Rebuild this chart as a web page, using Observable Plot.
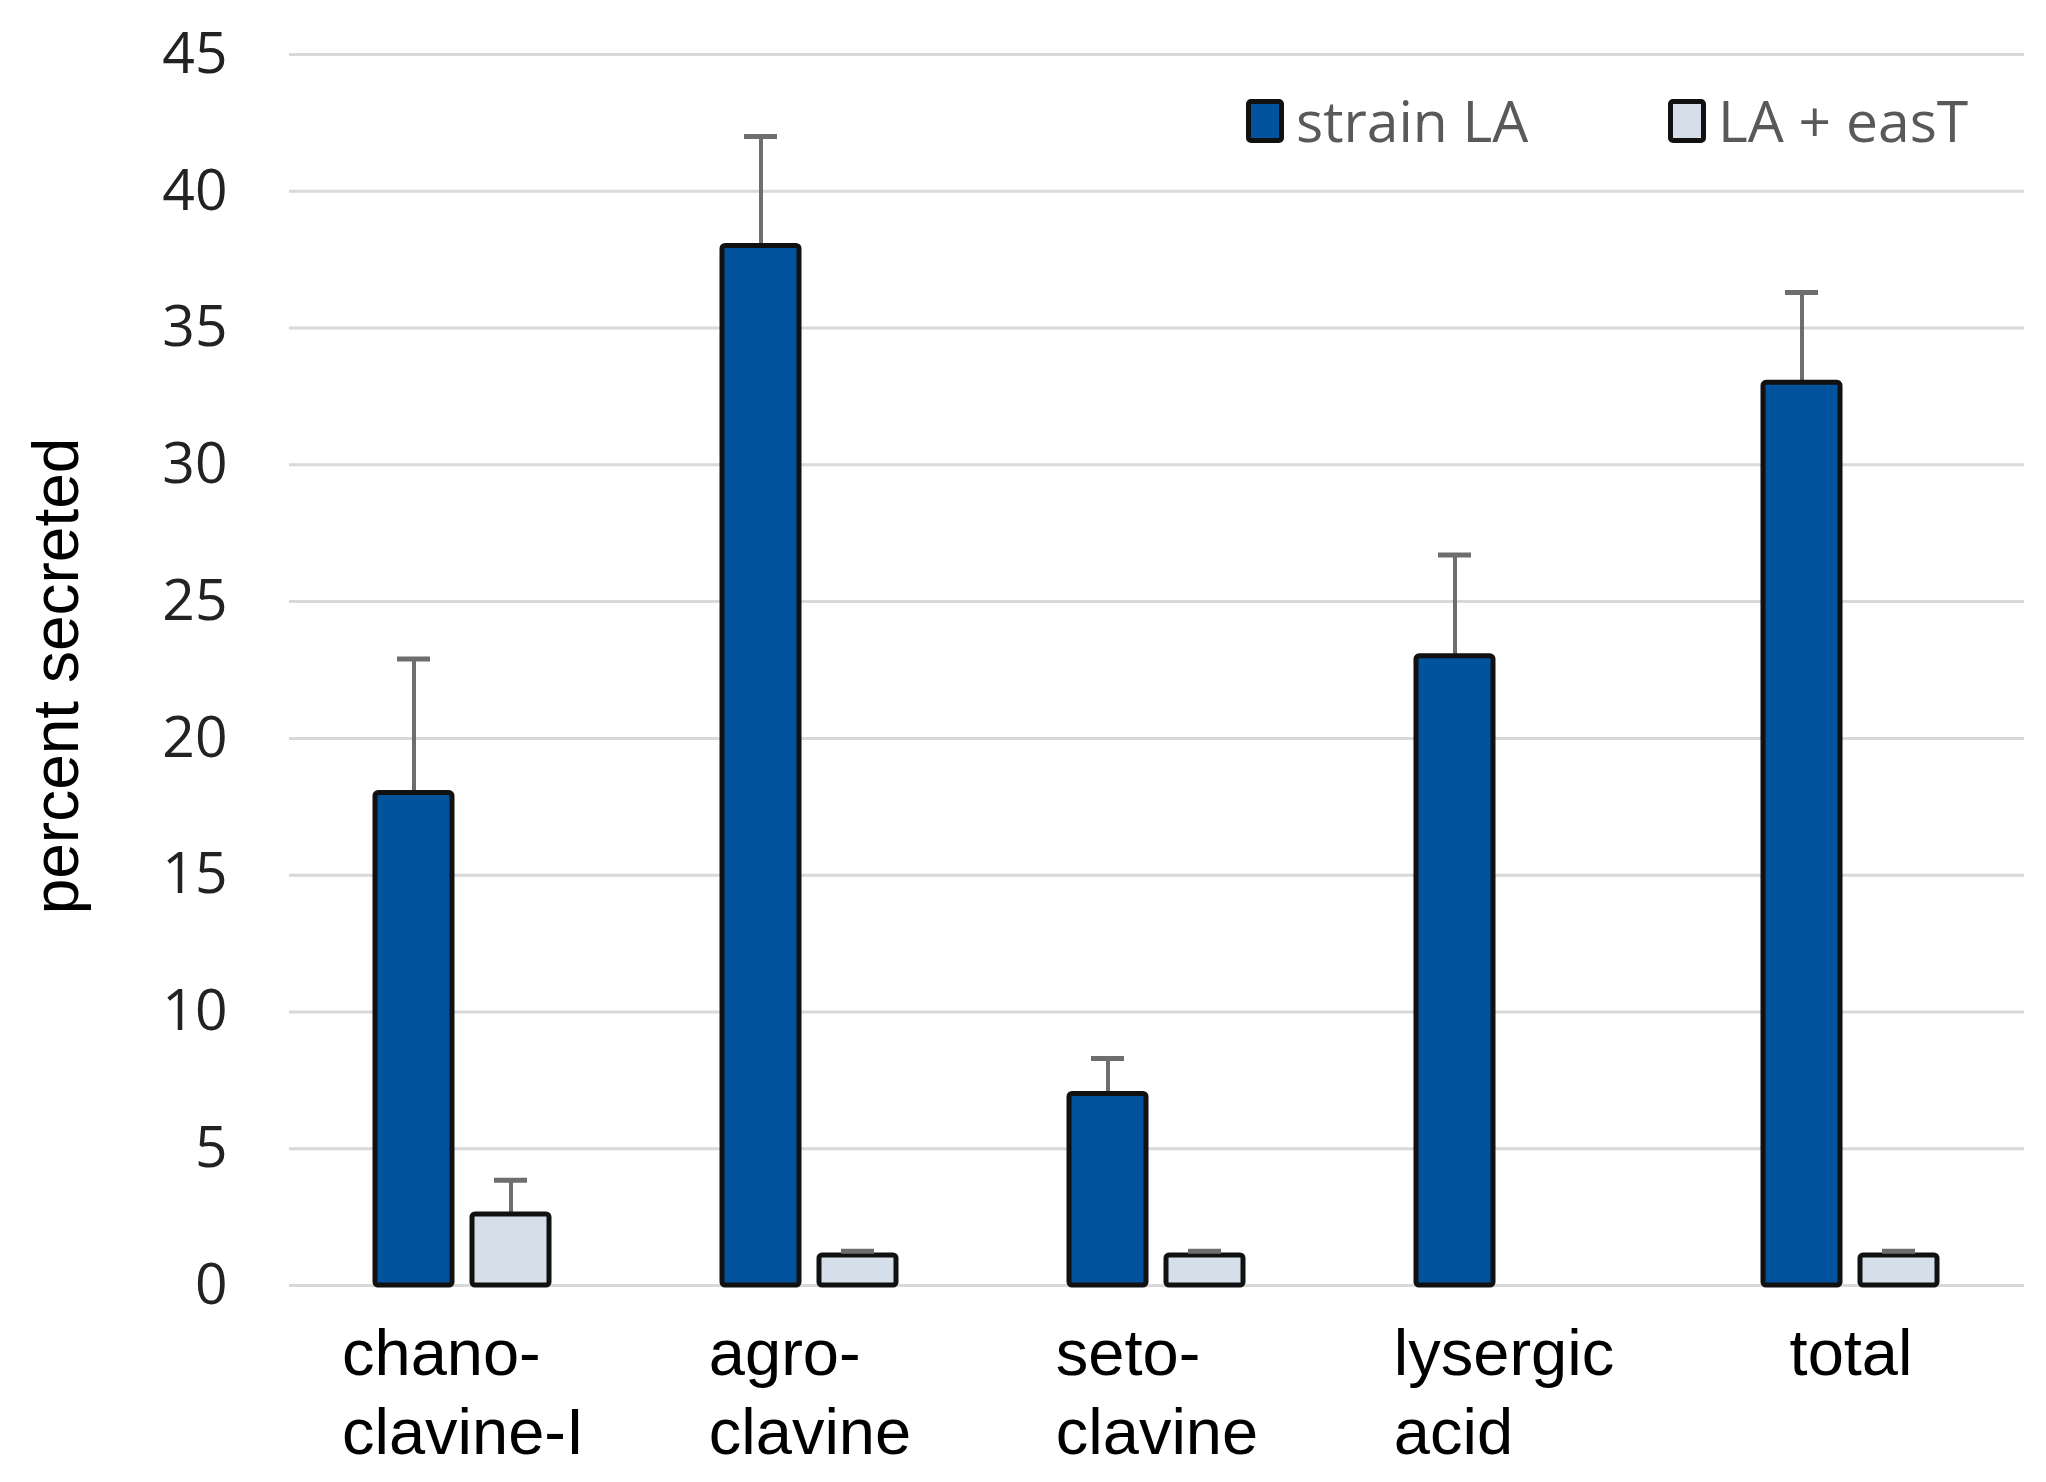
<!DOCTYPE html>
<html>
<head>
<meta charset="utf-8">
<script src="https://cdn.jsdelivr.net/npm/d3@7"></script>
<script src="https://cdn.jsdelivr.net/npm/@observablehq/plot@0.6"></script>
<style>
  html, body { margin: 0; padding: 0; background: #fff; }
  #wrap { position: relative; width: 2046px; height: 1482px; }
  .leg { position: absolute; display: flex; align-items: center; font-family: "Open Sans", sans-serif; font-size: 57px; color: #595959; line-height: 1; white-space: nowrap; }
  .sw { box-sizing: border-box; width: 38px; height: 44px; border: 5px solid #111; border-radius: 5px; margin-right: 12px; }
</style>
</head>
<body>
<div id="wrap"></div>
<script>
// ---- data ----
const categories = ["chanoclavine-I", "agroclavine", "setoclavine", "lysergic acid", "total"];
const categoryLabels = ["chano-\nclavine-I", "agro-\nclavine", "seto-\nclavine", "lysergic\nacid", "total"];
const seriesNames = ["strain LA", "LA + easT"];
const strainLA = [18, 38, 7, 23, 33];
const strainLAErr = [4.9, 4.0, 1.3, 3.7, 3.3];
const laEasT = [2.6, 1.1, 1.1, null, 1.1];
const laEasTErr = [1.25, 0.15, 0.15, null, 0.15];
const yTicks = [0, 5, 10, 15, 20, 25, 30, 35, 40, 45];
const yLabel = "percent secreted";
const seriesColors = ["#02539d", "#d5dfe9"];

// ---- table built from arrays ----
const rows = [];
categories.forEach((c, i) => {
  rows.push({cat: c, series: seriesNames[0], value: strainLA[i], err: strainLAErr[i]});
  if (laEasT[i] != null) rows.push({cat: c, series: seriesNames[1], value: laEasT[i], err: laEasTErr[i]});
});

const labelFont = "Liberation Sans, Arial, sans-serif";
const labelSize = 65;
const ctx = document.createElement("canvas").getContext("2d");
ctx.font = `${labelSize}px "Liberation Sans"`;
function blockWidth(s) { return d3.max(s.split("\n"), l => ctx.measureText(l).width); }

const labelMarks = categories.map((c, i) =>
  Plot.text([{cat: c, label: categoryLabels[i]}], {
    fx: "cat", text: "label", frameAnchor: "bottom",
    textAnchor: "start", lineAnchor: "top",
    dx: -blockWidth(categoryLabels[i]) / 2, dy: 33,
    lineHeight: 1.22, fontSize: labelSize, fontFamily: labelFont, fill: "#000"
  })
);

const chart = Plot.plot({
  width: 2046,
  height: 1482,
  marginLeft: 287,
  marginRight: 21,
  marginTop: 54,
  marginBottom: 197,
  style: {fontFamily: "Open Sans, sans-serif", fontSize: "57px", color: "#262626", background: "#fff"},
  fx: {domain: categories, padding: 0, axis: null, label: null},
  x: {domain: seriesNames, paddingInner: 0.204, paddingOuter: 0.876, axis: null},
  y: {domain: [0, 45], label: null},
  color: {domain: seriesNames, range: seriesColors},
  marks: [
    Plot.gridY(yTicks, {stroke: "#d9d9d9", strokeOpacity: 1, strokeWidth: 3}),
    Plot.axisY(yTicks, {tickSize: 0, tickPadding: 62, fontSize: 57, fontFamily: "Open Sans, sans-serif", color: "#222", label: null}),
    Plot.ruleX(rows, {fx: "cat", x: "series", y1: "value", y2: d => d.value + d.err, stroke: "#6e6e6e", strokeWidth: 4}),
    Plot.barY(rows, {fx: "cat", x: "series", y: "value", fill: "series", stroke: "#111", strokeWidth: 5, strokeLinejoin: "round", rx: 3}),
    Plot.tickY(rows, {fx: "cat", x: "series", y: d => d.value + d.err, stroke: "#6e6e6e", strokeWidth: 5, insetLeft: 22, insetRight: 22}),
    ...labelMarks,
    Plot.text([{cat: categories[0], t: yLabel}], {fx: "cat", text: "t", frameAnchor: "left", textAnchor: "middle", lineAnchor: "middle", rotate: -90, dx: -232, dy: 6, fontSize: 64, fontFamily: labelFont, fill: "#000"})
  ]
});

const wrap = document.getElementById("wrap");
wrap.appendChild(chart);

// legend
const legendLefts = [1246, 1668];
seriesNames.forEach((s, i) => {
  const item = document.createElement("div");
  item.className = "leg";
  item.style.left = legendLefts[i] + "px";
  item.style.top = "92px";
  const sw = document.createElement("div");
  sw.className = "sw";
  sw.style.background = seriesColors[i];
  const tx = document.createElement("span");
  tx.textContent = s;
  item.appendChild(sw);
  item.appendChild(tx);
  wrap.appendChild(item);
});
</script>
</body>
</html>
